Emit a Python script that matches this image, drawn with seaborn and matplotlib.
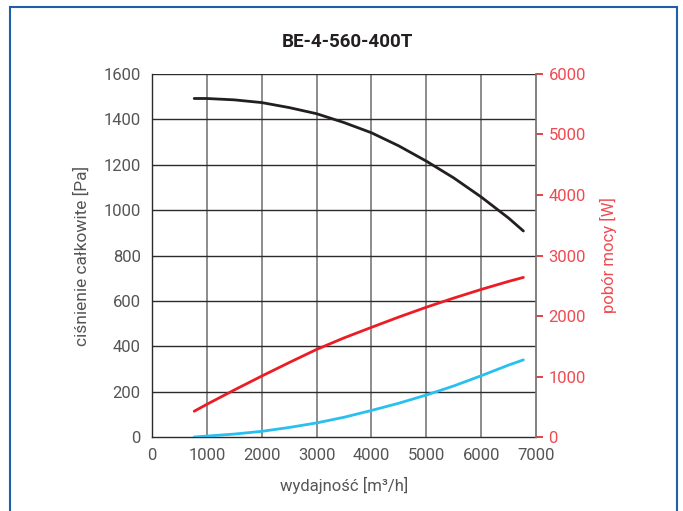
import matplotlib
matplotlib.use("Agg")
import matplotlib.pyplot as plt
from matplotlib.patches import Rectangle
import pandas as pd
import seaborn as sns

# Fan curve readings
flow = [770, 1000, 1500, 2000, 2500, 3000, 3500, 4000, 4500, 5000, 5500, 6000, 6500, 6770]
total_pressure = [1492, 1492, 1486, 1474, 1452, 1425, 1386, 1341, 1283, 1216, 1142, 1058, 965, 908]
dynamic_pressure = [0, 4, 13, 25, 42, 62, 87, 117, 149, 185, 225, 270, 317, 340]
power_w = [426, 540, 777, 1007, 1230, 1447, 1638, 1812, 1983, 2145, 2296, 2439, 2572, 2638]

x_ticks = [0, 1000, 2000, 3000, 4000, 5000, 6000, 7000]
y_ticks = [0, 200, 400, 600, 800, 1000, 1200, 1400, 1600]
y2_ticks = [0, 1000, 2000, 3000, 4000, 5000, 6000]

title = "BE-4-560-400T"
x_label = "wydajność [m³/h]"
y_label = "ciśnienie całkowite [Pa]"
y2_label = "pobór mocy [W]"

sns.set_style("white")
plt.rcParams["font.family"] = ["Roboto", "DejaVu Sans"]

BLACK = "#231f20"
RED = "#ec1c24"
BLUE = "#29bfee"
TXT = "#555555"
RED_TXT = "#ef4b52"

fig = plt.figure(figsize=(6.83, 5.11), dpi=100)
ax = fig.add_axes([0.2225, 0.1448, 0.5623, 0.7104])
ax2 = ax.twinx()

df = pd.DataFrame({"q": flow, "p": total_pressure, "pd": dynamic_pressure, "w": power_w})

sns.lineplot(data=df, x="q", y="p", ax=ax, color=BLACK, linewidth=2, zorder=5)
sns.lineplot(data=df, x="q", y="pd", ax=ax, color=BLUE, linewidth=2, zorder=5)
sns.lineplot(data=df, x="q", y="w", ax=ax2, color=RED, linewidth=2, zorder=5)

ax.set_xlim(0, 7000)
ax.set_ylim(0, 1600)
ax2.set_ylim(0, 6000)
ax.set_xticks(x_ticks)
ax.set_yticks(y_ticks)
ax2.set_yticks(y2_ticks)

# grid
for v in x_ticks[1:-1]:
    ax.axvline(v, color="#6d6d6d", linewidth=1.1, zorder=1)
for h in y_ticks[1:]:
    ax.axhline(h, color="#2b2b2b", linewidth=1.0, zorder=1)

for s in ["left", "bottom"]:
    ax.spines[s].set_color("#2b2b2b")
    ax.spines[s].set_linewidth(1.0)
ax.spines["top"].set_visible(False)
ax.spines["right"].set_visible(False)
ax2.spines["top"].set_visible(False)
ax2.spines["left"].set_visible(False)
ax2.spines["bottom"].set_visible(False)
ax2.spines["right"].set_color("#777777")
ax2.spines["right"].set_linewidth(1.3)

ax.tick_params(axis="both", length=0, labelsize=12, labelcolor=TXT, pad=8)
ax2.tick_params(axis="y", length=5, width=1.2, color=RED, labelsize=12,
                labelcolor=RED_TXT, pad=4)

ax.set_xlabel(x_label, fontsize=12, color=TXT, labelpad=10)
ax.set_ylabel(y_label, fontsize=12.5, color=TXT, labelpad=10)
ax2.set_ylabel(y2_label, fontsize=12, color=RED_TXT, labelpad=10)

fig.text(0.508, 0.918, title, ha="center", va="center", fontsize=13.5,
         fontweight="bold", color=BLACK)

fig.patches.append(Rectangle((10 / 683, -0.05), 667 / 683, 1 - 7 / 511 + 0.05,
                             transform=fig.transFigure, fill=False,
                             edgecolor="#1f5ea8", linewidth=1.5))

fig.savefig("out.png", dpi=100)
